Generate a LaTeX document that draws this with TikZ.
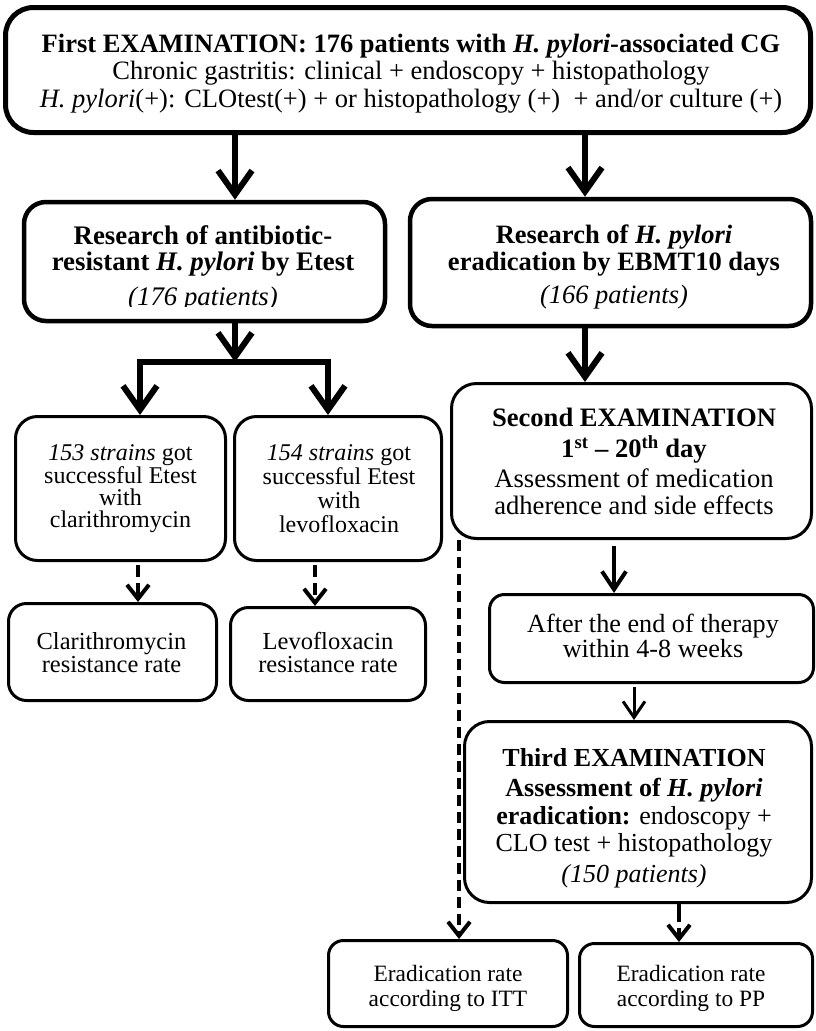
\documentclass[tikz,border=0pt]{standalone}
\usepackage{fontspec}
\setmainfont{Liberation Serif}
\usetikzlibrary{arrows.meta}
\begin{document}
\begin{tikzpicture}[x=1pt,y=-1pt,
  bx/.style={draw, inner sep=0pt},
  txt/.style={align=center, inner sep=0pt},
  bigarr/.style={line width=6pt, -{Straight Barb[length=24pt,width=34pt,line width=6pt]}},
  midarr/.style={line width=4pt, -{Straight Barb[length=18pt,width=24pt,line width=4pt]}},
  smarr/.style={line width=3pt, -{Straight Barb[length=16pt,width=22pt,line width=3pt]}},
  dasharr/.style={line width=4.5pt, dash pattern=on 11pt off 6pt, -{Straight Barb[length=14pt,width=22pt,line width=4pt,sep=0pt]}},
]
\useasboundingbox (0,0) rectangle (816,1031);
\fill[white] (0,0) rectangle (816,1031);

% boxes
\node[bx, line width=5pt, rounded corners=28pt, minimum width=805pt, minimum height=125pt] (top) at (408,70) {};
\node[bx, line width=4.5pt, rounded corners=22pt, minimum width=361pt, minimum height=119pt] (l2) at (204.5,261.5) {};
\node[bx, line width=4.5pt, rounded corners=22pt, minimum width=401pt, minimum height=127pt] (r2) at (610.5,262.5) {};
\node[bx, line width=3pt, rounded corners=22pt, minimum width=210pt, minimum height=144pt] (l3) at (120.5,488.5) {};
\node[bx, line width=3pt, rounded corners=22pt, minimum width=207pt, minimum height=144pt] (m3) at (338,488.5) {};
\node[bx, line width=3pt, rounded corners=25pt, minimum width=360pt, minimum height=155pt] (r3) at (631.5,461) {};
\node[bx, line width=3pt, rounded corners=18pt, minimum width=208pt, minimum height=97pt] (l4) at (112.5,652) {};
\node[bx, line width=3pt, rounded corners=18pt, minimum width=195pt, minimum height=93pt] (m4) at (328,654) {};
\node[bx, line width=3pt, rounded corners=15pt, minimum width=324pt, minimum height=88pt] (aft) at (651.5,638.5) {};
\node[bx, line width=3pt, rounded corners=25pt, minimum width=347pt, minimum height=181pt] (thr) at (638,812) {};
\node[bx, line width=3pt, rounded corners=15pt, minimum width=239pt, minimum height=86pt] (itt) at (448,983.5) {};
\node[bx, line width=3pt, rounded corners=15pt, minimum width=233pt, minimum height=83pt] (pp) at (696,985) {};

% texts
\node[txt, font=\fontsize{26.5}{27.5}\selectfont] (topt) at (411,73.5) {\textbf{First EXAMINATION: 176 patients with \textit{H. pylori}-associated CG}\\
Chronic gastritis: clinical + endoscopy + histopathology\\
\textit{H. pylori}(+): CLOtest(+) + or histopathology (+)\ \ + and/or culture (+)};

\begin{scope}
\clip (20,200) rectangle (390,306);
\node[txt, font=\fontsize{26.8}{26}\selectfont] (l2t) at (203,268.5) {\textbf{Research of antibiotic-}\\
\textbf{resistant \textit{H. pylori} by Etest}\\[9pt]
\textit{(176 patients)}};
\end{scope}

\node[txt, font=\fontsize{26.5}{27}\selectfont] (r2t) at (614,267) {\textbf{Research of \textit{H. pylori}}\\
\textbf{eradication by EBMT10 days}\\[6pt]
\textit{(166 patients)}};

\node[txt, font=\fontsize{24}{21.7}\selectfont] (l3t) at (120.5,488.5) {\textit{153 strains} got\\successful Etest\\with\\clarithromycin};
\node[txt, font=\fontsize{24}{24}\selectfont] (m3t) at (339,489) {\textit{154 strains} got\\successful Etest\\with\\levofloxacin};

\node[txt, font=\fontsize{26.6}{27}\selectfont] (r3t) at (634,461.5) {\textbf{Second EXAMINATION}\\[4pt]
\textbf{1\textsuperscript{st} -- 20\textsuperscript{th} day}\\[3pt]
Assessment of medication\\
adherence and side effects};

\node[txt, font=\fontsize{24.5}{23}\selectfont] (l4t) at (111.5,652.5) {Clarithromycin\\resistance rate};
\node[txt, font=\fontsize{24.5}{23}\selectfont] (m4t) at (328,652) {Levofloxacin\\resistance rate};

\node[txt, font=\fontsize{26.2}{23}\selectfont] (aftt) at (653,636) {After the end of therapy\\within 4-8 weeks};

\node[txt, font=\fontsize{26}{27.5}\selectfont] (thrt) at (634,818.5) {\textbf{Third EXAMINATION}\\[2.5pt]
\textbf{Assessment of \textit{H. pylori}}\\
\textbf{eradication:} endoscopy +\\
CLO test + histopathology\\[3.5pt]
\textit{(150 patients)}};

\node[txt, font=\fontsize{23.4}{25}\selectfont] (ittt) at (448,988) {Eradication rate\\according to ITT};
\node[txt, font=\fontsize{23.4}{25}\selectfont] (ppt) at (691,988) {Eradication rate\\according to PP};

% connector x positions
\coordinate (xa) at (235,0);
\coordinate (xb) at (585,0);
\coordinate (xl) at (140,0);
\coordinate (xm) at (328,0);
\coordinate (jn) at (235,362);
\coordinate (jl) at (140,362);
\coordinate (jr) at (328,362);
\coordinate (xd1) at (138,0);
\coordinate (xd2) at (315,0);
\coordinate (xs) at (614,0);
\coordinate (xt) at (634,0);
\coordinate (xi) at (459,0);
\coordinate (xp) at (679,0);

% connectors
\draw[bigarr] (xa |- top.south) -- (xa |- l2.north);
\draw[bigarr] (xb |- top.south) -- (xb |- r2.north);
\draw[bigarr] (xa |- l2.south) -- (jn);
\draw[line width=6pt, line cap=rect] (jl) -- (jr);
\draw[bigarr] (jl) -- (xl |- l3.north);
\draw[bigarr] (jr) -- (xm |- m3.north);
\draw[bigarr] (xb |- r2.south) -- (xb |- r3.north);

\draw[dasharr, dash pattern=on 12pt off 6pt, shorten <=3pt] (xd1 |- l3.south) -- (xd1 |- l4.north);
\draw[dasharr, dash pattern=on 12pt off 6pt, shorten <=3pt] (xd2 |- m3.south) -- (xd2 |- m4.north);

\draw[midarr, shorten <=6pt] (xs |- r3.south) -- (xs |- aft.north);
\draw[smarr, shorten <=3pt] (xt |- aft.south) -- (xt |- thr.north);

\draw[dasharr] (xi |- r3.south) -- (xi |- itt.north);
\draw[dasharr, dash pattern=on 18pt off 6pt] (xp |- thr.south) -- (xp |- pp.north);
\end{tikzpicture}
\end{document}
